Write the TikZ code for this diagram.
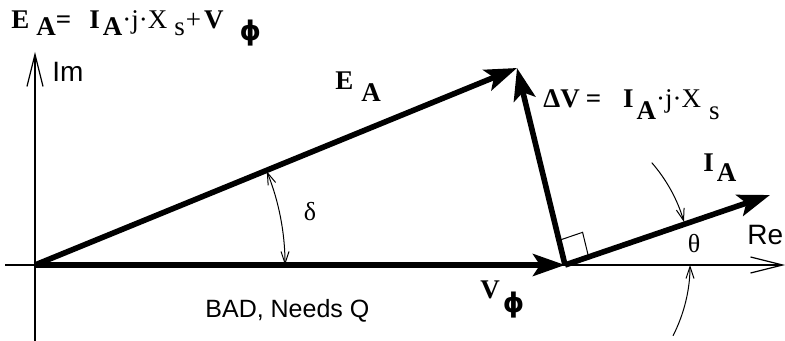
\documentclass[tikz,border=0pt]{standalone}
\usepackage{fontspec}
\setmainfont{Liberation Serif}
\setsansfont{Liberation Sans}
\newfontfamily\phifont{DejaVu Sans}
\usetikzlibrary{arrows.meta, calc}
\newcommand{\dn}[2][5pt]{\raisebox{-#1}{#2}}% bajada, texto
\newcommand{\fase}[1][6.5pt]{\dn[#1]{\phifont\bfseries ϕ}}% bajada
\tikzset{
  fasor/.style={line width=2.8pt, -{Stealth[length=16pt,width=11pt,inset=3.5pt]}},
  eje/.style={line width=0.6pt, -{Straight Barb[length=16pt,width=8pt]}},
  arco/.style={line width=0.5pt, {Straight Barb[length=6pt,width=4pt]}-{Straight Barb[length=6pt,width=4pt]}},
  arcofin/.style={line width=0.5pt, -{Straight Barb[length=6pt,width=4pt]}},
  lbl/.style={anchor=base west, inner sep=0pt, font=\fontsize{13.5}{15}\selectfont\bfseries},
  rot/.style={anchor=base west, inner sep=0pt, font=\fontsize{14}{16}\selectfont\sffamily},
  griego/.style={inner sep=0pt, font=\fontsize{13}{15}\selectfont},
}

\begin{document}
\begin{tikzpicture}[x=0.5pt, y=-0.5pt]
\useasboundingbox (0,0) rectangle (785,341);

% puntos del diagrama
\coordinate (O) at (35,265);
\coordinate (Vt) at (565,265);
\coordinate (Et) at (517,68);
\coordinate (It) at (770,195);
\coordinate (reL) at (5,265);
\coordinate (reR) at (785,265);
\coordinate (imB) at (35,341);
\coordinate (imT) at (35,52);
\coordinate (Ct) at (534,265);

% ejes
\draw[eje] (reL) -- (reR);
\draw[eje] (imB) -- (imT);
\node[rot] (im) at (52,82) {Im};
\node[rot] (re) at (747,245) {Re};

% fasores
\draw[fasor] (O) -- (Vt);
\draw[fasor] (O) -- (Et);
\draw[fasor] (Vt) -- (Et);
\draw[fasor] (Vt) -- (It);

% angulo recto
\coordinate (sqA) at ($(Vt)!0.115!(It)$);
\coordinate (sqB) at ($(Vt)!0.125!(Et)$);
\draw[line width=0.5pt] (sqA) -- ($(sqA)+(sqB)-(Vt)$) -- (sqB);

% angulos
\draw[arco] ($(O)+(-22:250)$) arc[start angle=-22, end angle=0, radius=250];
\draw[arcofin] ($(Ct)+(-41:156)$) arc[start angle=-41, end angle=-16, radius=156];
\draw[arcofin] ($(Ct)+(27:156)$) arc[start angle=27, end angle=0, radius=156];
\node[griego] (delta) at (310,212) {δ};
\node[griego] (theta) at (694,244) {θ};

% rotulos
\node[lbl] (ecuacion) at (11,29)
  {E\hspace{3.5pt}\dn[3.5pt]{A}=\hspace{9pt}I\hspace{1.5pt}\dn[3.5pt]{A}\mdseries·j·X\hspace{3.5pt}\dn[3.5pt]{s}\hspace{0.5pt}+\hspace{1.5pt}\bfseries V\hspace{8pt}\fase[6pt]};
\node[lbl] (lblE) at (335,90) {E\hspace{4pt}\dn[6pt]{A}};
\node[lbl] (lblDV) at (543,108)
  {ΔV\hspace{3pt}=\hspace{11pt}I\hspace{1.5pt}\dn[6pt]{A}\mdseries·j·X\hspace{4pt}\dn[6pt]{s}};
\node[lbl] (lblI) at (703,172) {I\hspace{1.5pt}\dn[5pt]{A}};
\node[lbl] (lblV) at (480,299) {V\hspace{1.5pt}\fase};
\node[rot, font=\fontsize{12.5}{15}\selectfont\sffamily] (nota) at (205,317) {BAD, Needs Q};

\end{tikzpicture}
\end{document}
